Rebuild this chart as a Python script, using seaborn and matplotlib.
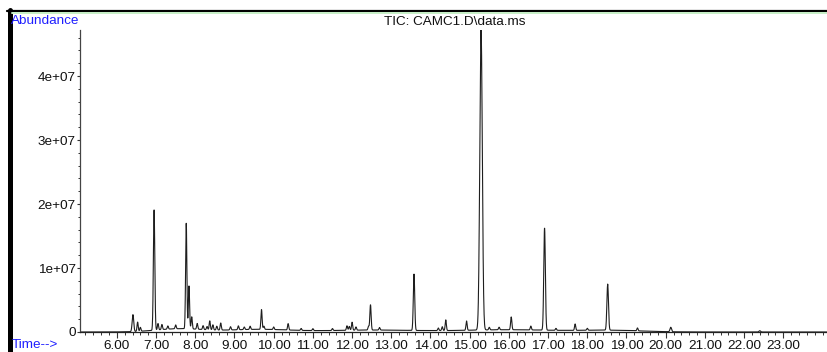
import numpy as np
import pandas as pd
import matplotlib
matplotlib.use("Agg")
import matplotlib.pyplot as plt
from matplotlib.ticker import FixedLocator, FixedFormatter, MultipleLocator
from matplotlib.lines import Line2D
import seaborn as sns

# ---- data (time in min, height in units of 1e6 counts) ----
peak_times = [6.41, 6.53, 6.60, 6.95, 7.05, 7.15, 7.30, 7.50, 7.77, 7.84, 7.91,
              8.05, 8.20, 8.30, 8.37, 8.45, 8.55, 8.65, 8.90, 9.10, 9.25, 9.40,
              9.69, 9.75, 10.00, 10.37, 10.70, 11.00, 11.50, 11.87, 11.93, 12.00,
              12.10, 12.42, 12.47, 12.70, 13.58, 14.20, 14.30, 14.39, 14.92,
              15.29, 15.50, 15.75, 16.06, 16.56, 16.91, 17.20, 17.69, 18.00,
              18.52, 19.28, 20.13, 22.40]
peak_heights = [2.65, 1.45, 0.6, 18.9, 1.0, 0.8, 0.5, 0.6, 16.6, 6.7, 1.9,
                0.9, 0.6, 0.5, 1.4, 0.8, 0.6, 1.1, 0.5, 0.6, 0.4, 0.5,
                3.1, 0.5, 0.4, 1.0, 0.3, 0.3, 0.3, 0.7, 0.6, 1.25,
                0.5, 0.6, 3.96, 0.4, 8.8, 0.4, 0.6, 1.67, 1.45,
                47.2, 0.4, 0.4, 2.0, 0.6, 16.0, 0.3, 1.0, 0.3,
                7.2, 0.45, 0.7, 0.2]
peak_widths = [0.02, 0.015, 0.015, 0.018, 0.015, 0.015, 0.015, 0.015, 0.016, 0.015, 0.015,
               0.015, 0.015, 0.015, 0.015, 0.015, 0.015, 0.015, 0.015, 0.015, 0.015, 0.015,
               0.015, 0.015, 0.015, 0.015, 0.015, 0.015, 0.015, 0.015, 0.015, 0.015,
               0.015, 0.015, 0.016, 0.015, 0.018, 0.015, 0.015, 0.015, 0.015,
               0.032, 0.015, 0.015, 0.016, 0.015, 0.02, 0.015, 0.015, 0.015,
               0.02, 0.015, 0.02, 0.02]
# broad baseline humps (time, height 1e6, width)
hump_times = [7.6, 9.6, 12.5, 16.0, 18.6]
hump_heights = [0.5, 0.4, 0.3, 0.35, 0.25]
hump_widths = [0.6, 0.8, 1.2, 1.2, 0.8]

x_tick_values = [6, 7, 8, 9, 10, 11, 12, 13, 14, 15, 16, 17, 18, 19, 20, 21, 22, 23]
x_tick_labels = ["6.00", "7.00", "8.00", "9.00", "10.00", "11.00", "12.00", "13.00",
                 "14.00", "15.00", "16.00", "17.00", "18.00", "19.00", "20.00",
                 "21.00", "22.00", "23.00"]
y_tick_values = [0, 1e7, 2e7, 3e7, 4e7]
y_tick_labels = ["0", "1e+07", "2e+07", "3e+07", "4e+07"]

title_text = "TIC: CAMC1.D\\data.ms"

# ---- build trace ----
t = np.arange(5.06, 24.2, 0.004)
sig = np.zeros_like(t)
for pt, ph, pw in zip(peak_times + hump_times, peak_heights + hump_heights,
                      peak_widths + hump_widths):
    sig += ph * 1e6 * np.exp(-0.5 * ((t - pt) / pw) ** 2)
df = pd.DataFrame({"time": t, "abundance": sig})

# ---- figure ----
sns.set_style("ticks")
plt.rcParams["font.family"] = ["Liberation Sans", "DejaVu Sans"]
W, H = 828, 352
fig = plt.figure(figsize=(W / 100, H / 100), dpi=100)
ax = fig.add_axes([80 / W, (H - 332) / H, (W - 80) / W, (332 - 30) / H])

sns.lineplot(data=df, x="time", y="abundance", ax=ax, color="#1e1e1e",
             linewidth=0.8, estimator=None, sort=False)

ax.set_xlim(5.06, 24.14)
ax.set_ylim(0, 4.72e7)
ax.set_xlabel("")
ax.set_ylabel("")
for s in ["top", "right"]:
    ax.spines[s].set_visible(False)
ax.spines["left"].set_color("#444444")
ax.spines["left"].set_linewidth(0.9)
ax.spines["bottom"].set_color("#222222")
ax.spines["bottom"].set_linewidth(0.9)

ax.xaxis.set_major_locator(FixedLocator(x_tick_values))
ax.xaxis.set_major_formatter(FixedFormatter(x_tick_labels))
ax.xaxis.set_minor_locator(MultipleLocator(0.2))
ax.yaxis.set_major_locator(FixedLocator(y_tick_values))
ax.yaxis.set_major_formatter(FixedFormatter(y_tick_labels))
ax.yaxis.set_minor_locator(MultipleLocator(2e6))

ax.tick_params(axis="x", which="major", direction="out", length=4, width=0.8,
               color="#333333", labelsize=9.7, pad=1.5, labelcolor="#111111")
ax.tick_params(axis="x", which="minor", direction="out", length=2.5, width=0.7,
               color="#333333")
ax.tick_params(axis="y", which="major", direction="out", length=2.5, width=0.8,
               color="#333333", labelsize=9.7, pad=0.5, labelcolor="#111111")
ax.tick_params(axis="y", which="minor", direction="out", length=1.5, width=0.7,
               color="#333333")

# ---- frame decorations in figure pixels ----
def fx(px):
    return px / W

def fy(py):
    return (H - py) / H

fig.add_artist(Line2D([fx(9.5), fx(9.5)], [fy(10), fy(352)], color="black",
                      linewidth=3.6, transform=fig.transFigure))
fig.add_artist(Line2D([fx(7), fx(828)], [fy(11), fy(11)], color="black",
                      linewidth=1.6, transform=fig.transFigure))
fig.add_artist(Line2D([fx(12), fx(828)], [fy(13.3), fy(13.3)], color="#c6efc6",
                      linewidth=1.4, transform=fig.transFigure))

blue = "#1f1fff"
fig.text(fx(11), fy(21), "Abundance", color=blue, fontsize=9.7, ha="left", va="center")
fig.text(fx(455), fy(22), title_text, color="#111111", fontsize=9.7, ha="center", va="center")
fig.text(fx(12), fy(345), "Time-->", color=blue, fontsize=9.7, ha="left", va="center")

fig.savefig("out.png", dpi=100)
